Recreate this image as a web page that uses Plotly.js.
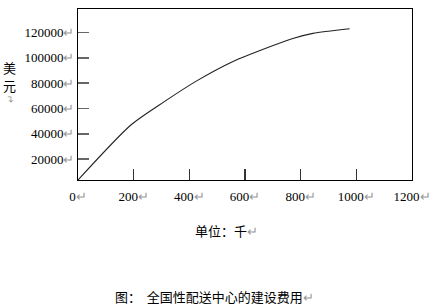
<!DOCTYPE html>
<html>
<head>
<meta charset="utf-8">
<script src="https://cdn.plot.ly/plotly-3.0.1.min.js"></script>
<style>html,body{margin:0;padding:0;background:#fff;}#chart{width:434px;height:307px;}</style>
</head>
<body>
<div id="chart"></div>
<script>
const xValues = [0, 190, 310, 425, 557, 701, 772, 844, 976];
const yValues = [3600, 47000, 65400, 81600, 97100, 109700, 115300, 119300, 122900];
const xTickVals = [0, 200, 400, 600, 800, 1000, 1200];
const xTickLabels = ["0", "200", "400", "600", "800", "1000", "1200"];
const yTickVals = [20000, 40000, 60000, 80000, 100000, 120000];
const yTickLabels = ["20000", "40000", "60000", "80000", "100000", "120000"];
const xTitle = "单位：千";
const yTitleChars = ["美", "元"];
const caption = "图：  全国性配送中心的建设费用";

const mark = "<span style='color:#999999'>↵</span>";
const serif = "Liberation Serif, Times New Roman, serif";
const cjk = "Noto Sans CJK SC, sans-serif";

const trace = {
  x: xValues, y: yValues, type: "scatter", mode: "lines",
  line: {color: "#222222", width: 1.1, shape: "spline", smoothing: 0.7},
  hoverinfo: "skip"
};

const annotations = [
  {text: xTitle + mark, xref: "paper", yref: "paper", x: 0.446, y: -0.298,
   xanchor: "center", yanchor: "middle", showarrow: false,
   font: {family: cjk, size: 13, color: "#000000"}},
  {text: caption + mark, xref: "paper", yref: "paper", x: 0.105, y: -0.684,
   xanchor: "left", yanchor: "middle", showarrow: false,
   font: {family: cjk, size: 13, color: "#000000"}}
];
// vertical y title: one character per line
const yTitleY = [0.66, 0.555];
yTitleChars.forEach((c, i) => annotations.push({
  text: c, xref: "paper", yref: "paper", x: -0.204, y: yTitleY[i],
  xanchor: "center", yanchor: "middle", showarrow: false, borderpad: 0,
  font: {family: cjk, size: 13, color: "#000000"}
}));
annotations.push({
  text: mark, xref: "paper", yref: "paper", x: -0.204, y: 0.47,
  xanchor: "center", yanchor: "middle", showarrow: false, textangle: -90, borderpad: 0,
  font: {family: cjk, size: 10, color: "#999999"}
});

const layout = {
  width: 434, height: 307,
  margin: {l: 78, r: 22, t: 9, b: 127},
  paper_bgcolor: "#ffffff", plot_bgcolor: "#ffffff",
  showlegend: false,
  xaxis: {
    range: [0, 1200], tickmode: "array", tickvals: xTickVals,
    ticktext: xTickLabels.map(t => t + mark),
    ticks: "inside", ticklen: 11, tickwidth: 1.3, tickcolor: "#333333",
    showline: true, linecolor: "#000000", linewidth: 1, mirror: true,
    showgrid: false, zeroline: false,
    tickfont: {family: serif, size: 13, color: "#000000"},
    ticklabelstandoff: 4
  },
  yaxis: {
    range: [3600, 138500], tickmode: "array", tickvals: yTickVals,
    ticktext: yTickLabels.map(t => t + mark),
    ticks: "inside", ticklen: 11, tickwidth: 1.6, tickcolor: "#666666",
    showline: true, linecolor: "#000000", linewidth: 1, mirror: true,
    showgrid: false, zeroline: false,
    tickfont: {family: serif, size: 13, color: "#000000"},
    ticklabelstandoff: 0
  },
  annotations: annotations
};

Plotly.newPlot("chart", [trace], layout, {displayModeBar: false, staticPlot: true});
</script>
</body>
</html>
